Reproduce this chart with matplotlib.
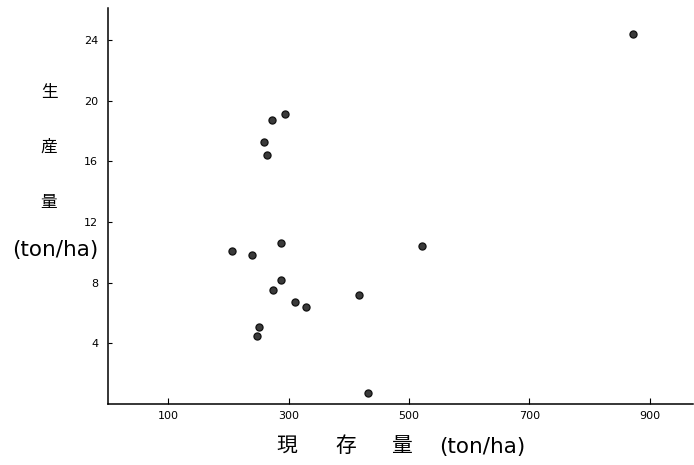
import matplotlib
matplotlib.use("Agg")
import matplotlib.pyplot as plt

plt.rcParams['font.family'] = ['Noto Sans CJK JP', 'DejaVu Sans']

# standing crop (ton/ha) vs. production (ton/ha)
standing_crop = [294, 272, 260, 265, 287, 206, 239, 287, 274, 310, 329, 251, 248, 417, 432, 873, 522]
production = [19.1, 18.7, 17.3, 16.4, 10.6, 10.1, 9.8, 8.2, 7.5, 6.7, 6.4, 5.1, 4.5, 7.2, 0.7, 24.4, 10.4]

x_ticks = [100, 300, 500, 700, 900]
y_ticks = [4, 8, 12, 16, 20, 24]

W, H = 694, 465
fig = plt.figure(figsize=(W / 100, H / 100), dpi=100)
ax = fig.add_axes([108 / W, 1 - 404 / H, 585 / W, 396 / H])

ax.scatter(standing_crop, production, s=26, c='#3a3a3a', edgecolors='#111111',
           linewidths=0.9, zorder=3)

ax.set_xlim(0, 972)
ax.set_ylim(0, 26.1)
ax.set_xticks(x_ticks)
ax.set_yticks(y_ticks)
ax.set_xticklabels([str(v) for v in x_ticks], family='DejaVu Sans', fontsize=8)
ax.set_yticklabels([str(v) for v in y_ticks], family='DejaVu Sans', fontsize=8)
ax.tick_params(axis='x', direction='in', length=4, width=0.8, pad=5)
ax.tick_params(axis='y', direction='in', length=3, width=0.8, pad=7)

for side in ('top', 'right'):
    ax.spines[side].set_visible(False)
for side in ('left', 'bottom'):
    ax.spines[side].set_linewidth(1.1)


def px(x, y):
    return x / W, 1 - y / H


# vertical y-axis title, characters stacked
for ch, yy in (('生', 92), ('産', 147), ('量', 203)):
    fig.text(*px(49, yy), ch, fontsize=12, ha='center', va='center')
fig.text(*px(55, 250), '(ton/ha)', family='DejaVu Sans', fontsize=15.5,
         ha='center', va='center')

# x-axis title, widely spaced characters
for ch, xx in (('現', 287), ('存', 346), ('量', 401)):
    fig.text(*px(xx, 446), ch, fontsize=15, ha='center', va='center')
fig.text(*px(439, 447), '(ton/ha)', family='DejaVu Sans', fontsize=15.5,
         ha='left', va='center')

fig.savefig('out.png', dpi=100)
